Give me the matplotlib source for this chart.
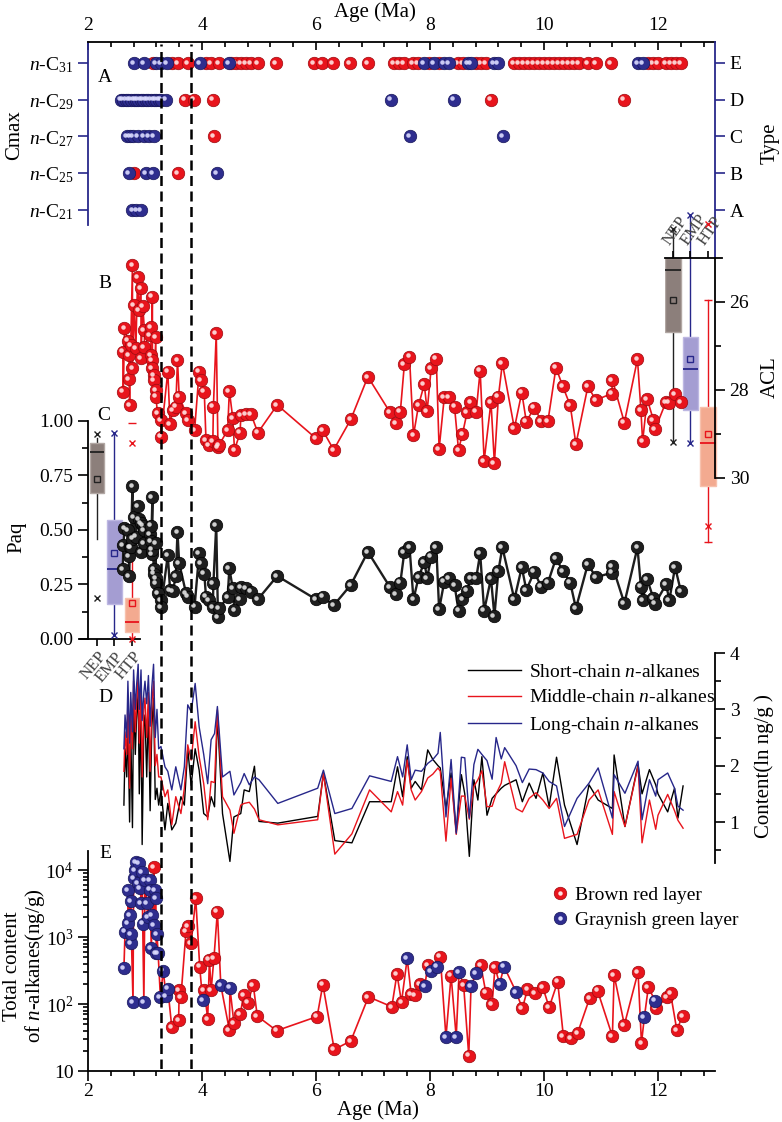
import matplotlib
matplotlib.use('Agg')
import math
import matplotlib.pyplot as plt
import matplotlib.transforms as mtransforms
from matplotlib.ticker import FixedLocator, MultipleLocator, FuncFormatter, LogLocator, NullFormatter
from matplotlib.lines import Line2D

plt.rcParams['font.family'] = ['Liberation Serif', 'DejaVu Serif']
plt.rcParams['mathtext.fontset'] = 'custom'
plt.rcParams['mathtext.rm'] = 'Liberation Serif'
plt.rcParams['mathtext.it'] = 'Liberation Serif:italic'
plt.rcParams['font.size'] = 14

# ---------------- datos ----------------
dashed_ages = [3.28, 3.81]

# A: Cmax por tipo (edad en Ma), capa rojo-pardo / gris-verde
typeE_red = [3.14, 3.47, 3.58, 3.75, 4.07, 4.16, 4.30, 4.51, 4.60, 4.68, 4.77, 4.86, 4.98, 5.30,
             5.97, 6.10, 6.30, 6.60, 6.91, 7.37, 7.46, 7.54, 7.70, 7.79, 7.98, 8.16, 8.49, 8.58,
             8.81, 8.89, 8.98, 9.47, 9.56, 9.65, 9.74, 9.82, 9.91, 10.00, 10.09, 10.17, 10.26,
             10.35, 10.44, 10.52, 10.61, 10.77, 10.91, 11.18, 11.82, 11.91, 12.00, 12.14, 12.23,
             12.32, 12.40]
typeE_green = [2.81, 2.98, 3.19, 3.28, 3.38, 3.97, 4.47, 7.90, 8.07, 8.25, 8.33, 8.67, 8.72,
               9.12, 9.19, 11.65, 11.74]
typeD_red = [3.70, 3.86, 4.19, 9.07, 11.40]
typeD_green = [2.58, 2.62, 2.67, 2.71, 2.75, 2.80, 2.84, 2.88, 2.93, 2.97, 3.02, 3.06, 3.11,
               3.15, 3.19, 3.24, 3.28, 3.37, 7.32, 8.42]
typeC_red = [4.21]
typeC_green = [2.68, 2.73, 2.79, 2.88, 2.98, 3.07, 3.16, 7.65, 9.28]
typeB_red = [2.81, 3.58]
typeB_green = [2.72, 3.02, 3.14, 4.26]
typeA_red = []
typeA_green = [2.78, 2.85, 2.93]
type_letters = ['A', 'B', 'C', 'D', 'E']
cmax_labels = [r'$\mathit{n}$-C$_{21}$', r'$\mathit{n}$-C$_{25}$', r'$\mathit{n}$-C$_{27}$',
               r'$\mathit{n}$-C$_{29}$', r'$\mathit{n}$-C$_{31}$']

# B y C: ACL y Paq por muestra
sample_age = [2.61, 2.62, 2.64, 2.70, 2.72, 2.72, 2.73, 2.75, 2.78, 2.78, 2.81, 2.84, 2.87, 2.90,
              2.93, 2.93, 2.96, 2.99, 2.99, 3.08, 3.11, 3.11, 3.13, 3.13, 3.13, 3.16, 3.16, 3.19,
              3.19, 3.19, 3.22, 3.28, 3.28, 3.40, 3.44, 3.49, 3.54, 3.57, 3.60, 3.72, 3.75, 3.87,
              3.95, 3.98, 4.04, 4.07, 4.13, 4.19, 4.20, 4.25, 4.28, 4.30, 4.45, 4.48, 4.54, 4.57,
              4.67, 4.68, 4.77, 4.86, 4.98, 5.32, 6.00, 6.12, 6.31, 6.61, 6.91, 7.30, 7.40, 7.48,
              7.55, 7.64, 7.71, 7.80, 7.90, 7.95, 8.02, 8.11, 8.16, 8.25, 8.34, 8.43, 8.50, 8.57,
              8.65, 8.71, 8.81, 8.88, 8.95, 9.07, 9.13, 9.20, 9.27, 9.48, 9.61, 9.69, 9.83, 9.95,
              10.07, 10.21, 10.33, 10.46, 10.56, 10.77, 10.91, 11.19, 11.20, 11.41, 11.64, 11.70,
              11.73, 11.81, 11.92, 11.95, 12.14, 12.20, 12.30, 12.40]
acl = [27.13, 28.04, 26.60, 26.88, 27.20, 27.76, 28.34, 26.98, 25.16, 27.50, 26.07, 27.05, 25.44,
       26.18, 25.69, 27.28, 26.09, 26.64, 27.02, 26.75, 26.57, 27.20, 25.88, 27.32, 27.50, 27.66,
       27.77, 26.80, 28.00, 28.15, 28.53, 28.68, 29.06, 27.58, 28.77, 28.45, 28.38, 27.32, 28.15,
       28.53, 28.68, 28.91, 27.58, 27.77, 28.04, 29.14, 29.25, 29.17, 28.38, 26.71, 29.30, 29.25,
       28.91, 28.02, 28.64, 29.36, 28.97, 28.57, 28.55, 28.55, 28.97, 28.34, 29.10, 28.92, 29.36,
       28.67, 27.70, 28.51, 28.76, 28.49, 27.42, 27.24, 29.03, 28.34, 27.87, 28.48, 27.51, 27.29,
       29.34, 28.17, 28.17, 28.38, 29.36, 29.00, 28.51, 28.27, 28.49, 27.56, 29.61, 28.27, 29.67,
       28.15, 27.39, 28.87, 28.06, 28.72, 28.40, 28.70, 28.70, 27.49, 27.92, 28.35, 29.23, 27.92,
       28.23, 28.08, 27.77, 28.74, 27.30, 28.45, 29.17, 28.21, 28.68, 28.89, 28.27, 28.29, 28.09,
       28.27]
paq = [0.32, 0.43, 0.51, 0.50, 0.38, 0.29, 0.42, 0.42, 0.70, 0.46, 0.56, 0.47, 0.61, 0.55, 0.53,
       0.40, 0.52, 0.50, 0.44, 0.48, 0.52, 0.45, 0.65, 0.39, 0.41, 0.32, 0.30, 0.44, 0.28, 0.255,
       0.21, 0.18, 0.145, 0.385, 0.225, 0.22, 0.289, 0.49, 0.347, 0.21, 0.194, 0.149, 0.393, 0.347,
       0.30, 0.194, 0.179, 0.145, 0.255, 0.523, 0.102, 0.141, 0.191, 0.324, 0.232, 0.133, 0.182,
       0.237, 0.232, 0.217, 0.182, 0.289, 0.182, 0.194, 0.154, 0.248, 0.40, 0.237, 0.206, 0.259,
       0.40, 0.423, 0.182, 0.283, 0.353, 0.278, 0.378, 0.423, 0.136, 0.263, 0.278, 0.248, 0.13,
       0.182, 0.222, 0.278, 0.278, 0.393, 0.13, 0.278, 0.105, 0.313, 0.42, 0.182, 0.329, 0.225,
       0.309, 0.24, 0.259, 0.37, 0.313, 0.259, 0.141, 0.344, 0.283, 0.304, 0.335, 0.164, 0.42,
       0.24, 0.179, 0.274, 0.186, 0.162, 0.25, 0.18, 0.33, 0.22]

# cajas (NEP, EMP, HTP)
box_names = ['NEP', 'EMP', 'HTP']
acl_q1 = [25.00, 26.79, 28.38]
acl_q3 = [26.68, 28.45, 30.18]
acl_med = [25.27, 27.53, 29.21]
acl_mean = [25.95, 27.29, 29.01]
acl_whislo = [24.34, 24.02, 25.95]
acl_whishi = [29.20, 29.21, 31.45]
acl_x = [[24.34, 29.18], [24.02, 29.21], [24.23, 31.09]]
paq_q1 = [0.67, 0.16, 0.03]
paq_q3 = [0.90, 0.546, 0.19]
paq_med = [0.857, 0.32, 0.08]
paq_mean = [0.733, 0.395, 0.165]
paq_whislo = [0.46, 0.02, 0.0]
paq_whishi = [0.92, 0.945, 0.50]
paq_x = [[0.94, 0.19], [0.945, 0.02], [0.90, 0.0]]
paq_htp_max = 0.99

# D: contenido (ln ng/g)
chain_age = [2.63, 2.65, 2.68, 2.70, 2.73, 2.75, 2.78, 2.80, 2.83, 2.85, 2.88, 2.90, 2.93, 2.95,
             2.98, 3.00, 3.03, 3.06, 3.09, 3.12, 3.15, 3.18, 3.21, 3.24,
             3.28, 3.35, 3.40, 3.47, 3.54, 3.63, 3.69, 3.75, 3.81, 3.88, 3.95, 4.03, 4.10, 4.16,
             4.22, 4.27, 4.36, 4.49, 4.56, 4.68, 4.74, 4.83, 4.92, 5.00, 5.33, 6.03, 6.13, 6.33,
             6.63, 6.94, 7.32, 7.43, 7.52, 7.60, 7.67, 7.74, 7.85, 7.96, 8.05, 8.14, 8.18, 8.28,
             8.37, 8.46, 8.55, 8.61, 8.69, 8.77, 8.84, 8.91, 9.00, 9.09, 9.16, 9.25, 9.31, 9.51,
             9.62, 9.74, 9.86, 9.98, 10.09, 10.22, 10.36, 10.58, 10.79, 10.95, 11.20, 11.23, 11.42,
             11.65, 11.72, 11.85, 11.96, 12.00, 12.17, 12.29, 12.35, 12.44]
long_chain = [2.3, 2.9, 2.5, 3.5, 2.4, 3.3, 2.6, 3.7, 3.0, 3.4, 3.8, 3.0, 3.7, 2.8, 3.3, 3.5, 3.1,
              3.6, 2.7, 3.4, 3.8, 2.5, 3.0, 2.3,
              2.34, 1.98, 1.90, 1.57, 1.98, 1.57, 1.98, 3.08, 2.96, 3.46, 2.69, 2.20, 1.68, 2.46,
              2.57, 3.05, 1.80, 1.90, 1.48, 1.70, 1.86, 1.66, 1.80, 1.75, 1.33, 1.60, 1.92, 1.15,
              1.24, 1.82, 1.72, 2.16, 1.80, 2.37, 1.75, 1.92, 1.90, 2.04, 2.11, 2.22, 2.59, 1.09,
              2.11, 0.80, 2.15, 2.14, 1.07, 2.02, 2.29, 2.20, 2.09, 1.76, 2.50, 2.12, 2.32, 2.00,
              1.70, 1.94, 1.93, 1.87, 1.72, 1.64, 0.92, 1.42, 1.69, 1.96, 1.07, 1.84, 1.51, 2.08,
              1.04, 1.75, 1.46, 1.75, 1.87, 1.60, 1.28, 1.21]
middle_chain = [1.9, 2.6, 2.2, 3.2, 1.6, 3.0, 2.3, 3.5, 2.6, 3.1, 3.6, 2.4, 3.4, 1.8, 3.0, 3.2,
                2.5, 3.3, 1.9, 3.1, 3.5, 2.0, 2.2, 1.8,
                1.80, 1.45, 1.57, 0.95, 1.45, 1.15, 1.60, 2.37, 2.10, 2.78, 2.16, 1.68, 1.04, 1.72,
                1.70, 2.99, 1.45, 1.21, 0.80, 1.30, 1.33, 1.35, 1.23, 1.04, 0.95, 1.04, 1.86, 0.43,
                0.79, 1.57, 1.18, 1.54, 1.30, 2.10, 1.57, 1.39, 1.54, 1.78, 1.85, 1.96, 1.90, 0.66,
                1.78, 0.78, 1.46, 1.46, 1.05, 1.63, 1.75, 1.91, 1.27, 1.28, 1.50, 1.69, 2.07, 1.24,
                1.18, 1.42, 1.52, 1.39, 1.24, 1.42, 0.71, 0.78, 1.39, 1.57, 0.78, 1.54, 0.92, 1.99,
                0.63, 1.39, 0.87, 1.12, 1.49, 1.20, 1.03, 0.89]
short_chain = [1.3, 2.3, 1.8, 2.8, 1.0, 2.6, 0.9, 3.2, 2.2, 2.8, 3.3, 1.5, 3.0, 0.6, 2.7, 2.9,
               1.8, 3.0, 1.2, 2.7, 3.2, 1.4, 1.6, 1.3,
               1.57, 0.86, 1.33, 0.86, 0.98, 1.45, 1.30, 2.30, 1.65, 2.30, 1.92, 1.15, 1.09, 1.45,
               1.27, 2.87, 1.15, 0.30, 1.09, 1.15, 1.57, 1.54, 1.99, 1.01, 0.98, 1.10, 1.86, 0.67,
               0.63, 1.36, 1.36, 1.98, 1.45, 2.16, 1.60, 1.72, 1.57, 2.28, 2.11, 2.00, 1.96, 1.24,
               1.87, 0.83, 1.84, 1.50, 0.39, 1.75, 1.39, 2.16, 1.12, 1.42, 1.50, 1.60, 1.65, 1.75,
               1.36, 1.69, 1.42, 1.87, 1.27, 2.15, 1.30, 0.60, 1.66, 1.39, 1.24, 2.19, 0.92, 2.02,
               1.50, 1.93, 1.66, 1.50, 1.18, 1.60, 1.07, 1.64]

# E: contenido total (ng/g)
total_age = [2.63, 2.65, 2.70, 2.70, 2.74, 2.75, 2.75, 2.76, 2.79, 2.80, 2.82, 2.84, 2.87, 2.90,
             2.92, 2.93, 2.95, 2.96, 2.98, 3.00, 3.03, 3.05, 3.08, 3.09, 3.11, 3.13, 3.16, 3.16,
             3.18, 3.19, 3.20, 3.21, 3.23, 3.27, 3.32, 3.37, 3.40, 3.47, 3.59, 3.60, 3.63, 3.72,
             3.75, 3.81, 3.89, 3.96, 4.01, 4.04, 4.10, 4.13, 4.16, 4.21, 4.27, 4.33, 4.48, 4.49,
             4.56, 4.67, 4.73, 4.80, 4.90, 4.97, 5.31, 6.02, 6.12, 6.32, 6.61, 6.92, 7.33, 7.42,
             7.50, 7.60, 7.67, 7.73, 7.82, 7.91, 7.96, 8.02, 8.13, 8.18, 8.28, 8.37, 8.46, 8.51,
             8.59, 8.68, 8.72, 8.81, 8.89, 8.98, 9.09, 9.14, 9.22, 9.30, 9.51, 9.62, 9.71, 9.84,
             9.98, 10.09, 10.24, 10.34, 10.47, 10.59, 10.80, 10.94, 11.20, 11.23, 11.41, 11.65,
             11.71, 11.76, 11.83, 11.95, 11.96, 12.16, 12.22, 12.33, 12.43]
total_content = [340, 1200, 1600, 5000, 2100, 3400, 810, 1100, 107, 7600, 10000, 13000, 6300,
                 12600, 5400, 3200, 9400, 1580, 107, 7100, 3200, 2000, 7000, 5100, 680, 2100,
                 11000, 1500, 5000, 3800, 570, 1100, 580, 128, 315, 130, 170, 45, 58, 160, 128,
                 1230, 1450, 810, 3800, 360, 115, 160, 60, 460, 160, 490, 2400, 190, 41, 175, 52,
                 70, 135, 105, 190, 66, 40, 65, 195, 21, 28, 128, 91, 280, 107, 480, 140, 135, 200,
                 185, 380, 310, 360, 510, 32, 265, 32, 300, 190, 17, 185, 290, 380, 148, 100, 355,
                 200, 360, 152, 86, 165, 145, 177, 89, 215, 33, 31, 37, 122, 158, 33, 270, 49, 300,
                 26, 63, 177, 112, 86, 126, 145, 41, 66]
total_layer = list('GGGGGGGGGGGGGGGGGGGGGGGGGGRGGGGGGGGGG' 'RRRRRRRRR' 'GRRRRRR' 'GRGRRRRRRRRRRRRRRR'
                   'GRRRGRGGRGRGGRRGGRRRRGGG' 'RRRRRRRRRRRRRRRRG' 'RGRRRRRRR')

# ---------------- figura ----------------
W, H = 782, 1122
fig = plt.figure(figsize=(W / 100, H / 100), dpi=100)


def rect(x0, y0, x1, y1):
    return [x0 / W, 1 - y1 / H, (x1 - x0) / W, (y1 - y0) / H]


RED, RED_E, RED_H = '#e8141c', '#9c0a10', '#ffe2e2'
BLUE, BLUE_E, BLUE_H = '#2e2d8e', '#17165a', '#dcdcff'
BLK, BLK_E, BLK_H = '#1e1e1e', '#000000', '#e4e4e4'
NAVY = '#27278a'
LAB = 15


def esferas(ax, x, y, color, edge, hl, ms=9, z=4):
    ax.plot(x, y, 'o', ms=ms, mfc=color, mec=edge, mew=0.5, ls='none', zorder=z)
    tr = mtransforms.offset_copy(ax.transData, fig=fig, x=-1.4, y=0.9, units='points')
    ax.plot(x, y, 'o', ms=ms * 0.36, mfc=hl, mec='none', alpha=0.9, ls='none',
            transform=tr, zorder=z + 0.1)


def sin_marco(ax):
    ax.patch.set_visible(False)
    for s in ax.spines.values():
        s.set_visible(False)
    ax.tick_params(which='both', left=False, right=False, top=False, bottom=False,
                   labelleft=False, labelright=False, labeltop=False, labelbottom=False)


def age_ticks(ax):
    ax.set_xlim(2, 13)
    ax.xaxis.set_major_locator(FixedLocator([2, 4, 6, 8, 10, 12]))
    ax.xaxis.set_minor_locator(MultipleLocator(0.4))


# --- A ---
axA = fig.add_axes(rect(88, 42, 715, 225))
axA.patch.set_visible(False)
age_ticks(axA)
axA.set_ylim(0.592, 5.571)
axA.spines['bottom'].set_visible(False)
axA.spines['right'].set_visible(False)
axA.spines['left'].set_color(NAVY)
axA.spines['left'].set_linewidth(1.3)
axA.spines['top'].set_linewidth(1.3)
axA.xaxis.tick_top()
axA.tick_params(axis='x', which='both', direction='in', labelsize=14, pad=6, width=1.2)
axA.tick_params(axis='x', which='major', length=6)
axA.tick_params(axis='x', which='minor', length=3.5)
axA.set_yticks(range(1, 6), cmax_labels)
axA.tick_params(axis='y', direction='out', length=7, width=1.2, color=NAVY, labelsize=14)

axA2 = axA.twinx()
axA2.set_ylim(0.592, 5.571)
for s in ['left', 'top', 'bottom']:
    axA2.spines[s].set_visible(False)
axA2.spines['right'].set_color(NAVY)
axA2.spines['right'].set_linewidth(1.3)
axA2.spines['right'].set_bounds(-0.306, 5.571)
axA2.set_yticks(range(1, 6), type_letters)
axA2.tick_params(axis='y', direction='out', length=7, width=1.2, color=NAVY, labelsize=14)

type_red = [typeA_red, typeB_red, typeC_red, typeD_red, typeE_red]
type_green = [typeA_green, typeB_green, typeC_green, typeD_green, typeE_green]
for lev in range(5):
    if type_red[lev]:
        esferas(axA, type_red[lev], [lev + 1] * len(type_red[lev]), RED, RED_E, RED_H)
    if type_green[lev]:
        esferas(axA, type_green[lev], [lev + 1] * len(type_green[lev]), BLUE, BLUE_E, BLUE_H, z=5)
for a in (axA, axA2):
    for l in a.lines:
        l.set_clip_on(False)

# --- B (ACL) ---
axB = fig.add_axes(rect(88, 230, 715, 560))
sin_marco(axB)
axB.set_xlim(2, 13)
axB.set_ylim(31.864, 24.364)
axB.spines['right'].set_visible(True)
axB.spines['right'].set_bounds(25, 30)
axB.spines['right'].set_linewidth(1.3)
axB.yaxis.tick_right()
axB.yaxis.set_major_locator(FixedLocator([26, 28, 30]))
axB.yaxis.set_minor_locator(FixedLocator([27, 29]))
axB.tick_params(axis='y', which='both', right=True, labelright=True, direction='out',
                labelsize=14, width=1.2)
axB.tick_params(axis='y', which='major', length=7)
axB.tick_params(axis='y', which='minor', length=4)
axB.plot(sample_age, acl, '-', color=RED, lw=1.2, zorder=3)
esferas(axB, sample_age, acl, RED, RED_E, RED_H)
axB.set_zorder(3)

axBb = fig.add_axes(rect(665, 230, 722, 560), sharey=axB)
sin_marco(axBb)
axBb.set_zorder(2)
axBb.set_xlim(0.543, 3.8)
axBb.spines['top'].set_visible(True)
axBb.spines['top'].set_position(('data', 25.0))
axBb.spines['top'].set_linewidth(1.3)

# --- C (Paq) ---
axC = fig.add_axes(rect(88, 400, 715, 650))
sin_marco(axC)
axC.set_xlim(2, 13)
axC.set_ylim(-0.0505, 1.0963)
axC.spines['left'].set_visible(True)
axC.spines['left'].set_bounds(0, 1)
axC.spines['left'].set_linewidth(1.3)
axC.yaxis.set_major_locator(FixedLocator([0, 0.25, 0.5, 0.75, 1.0]))
axC.yaxis.set_minor_locator(MultipleLocator(0.125))
axC.yaxis.set_major_formatter(FuncFormatter(lambda v, p: '%.2f' % v))
axC.tick_params(axis='y', which='both', left=True, labelleft=True, direction='out',
                labelsize=14, width=1.2)
axC.tick_params(axis='y', which='major', length=7)
axC.tick_params(axis='y', which='minor', length=4)
axC.plot(sample_age, paq, '-', color=BLK, lw=1.7, zorder=3)
esferas(axC, sample_age, paq, BLK, BLK_E, BLK_H)
axC.set_zorder(3)

axCb = fig.add_axes(rect(80, 400, 140, 650), sharey=axC)
sin_marco(axCb)
axCb.set_zorder(2)
axCb.set_xlim(0.029, 3.457)
axCb.spines['bottom'].set_visible(True)
axCb.spines['bottom'].set_position(('data', 0.0))
axCb.spines['bottom'].set_linewidth(1.3)

box_face = ['#8c7f7b', '#a49dd2', '#f3aa90']
box_edge = ['#b1a7a3', '#bdb7e2', '#f7c1ad']
box_dark = ['#222222', NAVY, RED]


def cajas(ax, q1, q3, med, mean, wlo, whi, xs, width):
    stats = []
    for i in range(3):
        stats.append(dict(q1=q1[i], q3=q3[i], med=med[i], mean=mean[i],
                          whislo=wlo[i], whishi=whi[i], fliers=[]))
    bp = ax.bxp(stats, positions=[1, 2, 3], widths=width, patch_artist=True,
                showmeans=True, showcaps=False, showfliers=False, manage_ticks=False)
    for i in range(3):
        bp['boxes'][i].set(facecolor=box_face[i], edgecolor=box_edge[i], lw=1, zorder=2)
        bp['medians'][i].set(color=box_dark[i], lw=1.3, zorder=3)
        bp['means'][i].set(marker='s', ms=5, mfc='none', mec=box_dark[i], mew=1, zorder=3)
        for w in bp['whiskers'][2 * i:2 * i + 2]:
            w.set(color=box_dark[i], lw=1, zorder=1)
            w.set_clip_on(False)
        ax.plot([i + 1] * 2, xs[i], 'x', ms=5, mew=1, color=box_dark[i], zorder=4, clip_on=False)
    for a in bp['means'] + bp['medians']:
        a.set_clip_on(False)
    return bp


cajas(axBb, acl_q1, acl_q3, acl_med, acl_mean, acl_whislo, acl_whishi, acl_x, 0.88)
axBb.plot([3, 3], [acl_whislo[2], acl_whishi[2]], '_', ms=6, mew=1, color=RED)
axBb.xaxis.set_ticks_position('top')
axBb.set_xticks([1, 2, 3], box_names)
axBb.tick_params(axis='x', top=True, labeltop=True, direction='out', length=5, width=1.2,
                 labelsize=12, labelcolor='#444444', pad=2)
for t in axBb.get_xticklabels():
    t.set_rotation(55)
    t.set_ha('left')
    t.set_rotation_mode('anchor')

cajas(axCb, paq_q1, paq_q3, paq_med, paq_mean, paq_whislo, paq_whishi, paq_x, 0.82)
axCb.plot([3], [paq_htp_max], '_', ms=6, mew=1, color=RED)
axCb.set_xticks([1, 2, 3], box_names)
axCb.tick_params(axis='x', bottom=True, labelbottom=True, direction='out', length=5, width=1.2,
                 labelsize=12, labelcolor='#444444', pad=2)
for t in axCb.get_xticklabels():
    t.set_rotation(50)
    t.set_ha('right')
    t.set_rotation_mode('anchor')

# --- D ---
axD = fig.add_axes(rect(88, 640, 715, 870))
sin_marco(axD)
axD.set_xlim(2, 13)
axD.set_ylim(0.148, 4.231)
axD.spines['right'].set_visible(True)
axD.spines['right'].set_bounds(0.27, 4)
axD.spines['right'].set_linewidth(1.3)
axD.yaxis.tick_right()
axD.yaxis.set_major_locator(FixedLocator([1, 2, 3, 4]))
axD.yaxis.set_minor_locator(FixedLocator([0.5, 1.5, 2.5, 3.5]))
axD.tick_params(axis='y', which='both', right=True, labelright=True, direction='out',
                labelsize=14, width=1.2)
axD.tick_params(axis='y', which='major', length=7)
axD.tick_params(axis='y', which='minor', length=4)
axD.plot(chain_age, short_chain, color='black', lw=1.0, label=r'Short-chain $\mathit{n}$-alkanes')
axD.plot(chain_age, middle_chain, color=RED, lw=1.0, label=r'Middle-chain $\mathit{n}$-alkanes')
axD.plot(chain_age, long_chain, color=NAVY, lw=1.0, label=r'Long-chain $\mathit{n}$-alkanes')
axD.legend(loc='upper left', bbox_to_anchor=(468 / W, 1 - 663 / H), bbox_transform=fig.transFigure,
           frameon=False, fontsize=14, handlelength=2.7, handletextpad=0.45, labelspacing=0.42,
           borderpad=0, borderaxespad=0)

# --- E ---
axE = fig.add_axes(rect(88, 851, 715, 1071))
axE.patch.set_visible(False)
age_ticks(axE)
axE.set_yscale('log')
axE.set_ylim(10, 19240)
axE.spines['top'].set_visible(False)
axE.spines['right'].set_visible(False)
for s in ['left', 'bottom']:
    axE.spines[s].set_linewidth(1.3)
axE.yaxis.set_major_locator(FixedLocator([10, 100, 1000, 10000]))
axE.yaxis.set_minor_locator(LogLocator(base=10, subs=range(2, 10)))
axE.yaxis.set_minor_formatter(NullFormatter())
axE.yaxis.set_major_formatter(FuncFormatter(
    lambda v, p: '10' if v < 50 else r'$10^{%d}$' % round(math.log10(v))))
axE.tick_params(axis='both', which='both', direction='out', labelsize=14, width=1.2)
axE.tick_params(axis='both', which='major', length=7)
axE.tick_params(axis='both', which='minor', length=3.5)
axE.tick_params(axis='x', pad=2)
axE.plot(total_age, total_content, '-', color=RED, lw=1.2, zorder=3)
red_x = [a for a, l in zip(total_age, total_layer) if l == 'R']
red_y = [v for v, l in zip(total_content, total_layer) if l == 'R']
grn_x = [a for a, l in zip(total_age, total_layer) if l == 'G']
grn_y = [v for v, l in zip(total_content, total_layer) if l == 'G']
esferas(axE, red_x, red_y, RED, RED_E, RED_H)
esferas(axE, grn_x, grn_y, BLUE, BLUE_E, BLUE_H, z=5)
hr = (Line2D([], [], marker='o', ls='none', ms=9, mfc=RED, mec=RED_E, mew=0.5),
      Line2D([], [], marker='o', ls='none', ms=3.2, mfc=RED_H, mec='none'))
hg = (Line2D([], [], marker='o', ls='none', ms=9, mfc=BLUE, mec=BLUE_E, mew=0.5),
      Line2D([], [], marker='o', ls='none', ms=3.2, mfc=BLUE_H, mec='none'))
axE.legend([hr, hg], ['Brown red layer', 'Graynish green layer'], loc='upper left',
           bbox_to_anchor=(550 / W, 1 - 886 / H), bbox_transform=fig.transFigure,
           frameon=False, fontsize=14, handlelength=1.0, handletextpad=0.3, labelspacing=0.4,
           borderpad=0, borderaxespad=0)

# --- lineas discontinuas ---
axL = fig.add_axes(rect(88, 44, 715, 1069))
sin_marco(axL)
axL.set_xlim(2, 13)
axL.set_zorder(10)
for a in dashed_ages:
    axL.axvline(a, color='black', lw=1.8, ls=(0, (4, 2.2)))

# --- letras y etiquetas ---
for letra, (px, py) in zip('ABCDE', [(105, 78), (105, 283), (104, 415), (105, 697), (105, 854)]):
    fig.text(px / W, 1 - py / H, letra, fontsize=14, ha='center', va='center')
fig.text(375 / W, 1 - 12 / H, 'Age (Ma)', ha='center', va='center', fontsize=LAB)
fig.text(378 / W, 1 - 1110 / H, 'Age (Ma)', ha='center', va='center', fontsize=LAB)
fig.text(15 / W, 1 - 135 / H, 'Cmax', rotation=90, ha='center', va='center', fontsize=LAB)
fig.text(770 / W, 1 - 143 / H, 'Type', rotation=90, ha='center', va='center', fontsize=LAB)
fig.text(770 / W, 1 - 377 / H, 'ACL', rotation=90, ha='center', va='center', fontsize=LAB)
fig.text(17 / W, 1 - 537 / H, 'Paq', rotation=90, ha='center', va='center', fontsize=LAB)
fig.text(764 / W, 1 - 766 / H, 'Content(ln ng/g )', rotation=90, ha='center', va='center',
         fontsize=LAB)
fig.text(25 / W, 1 - 966 / H, 'Total content\nof $\\mathit{n}$-alkanes(ng/g)', rotation=90,
         ha='center', va='center', fontsize=LAB, linespacing=1.1)

fig.savefig('out.png', dpi=100)
